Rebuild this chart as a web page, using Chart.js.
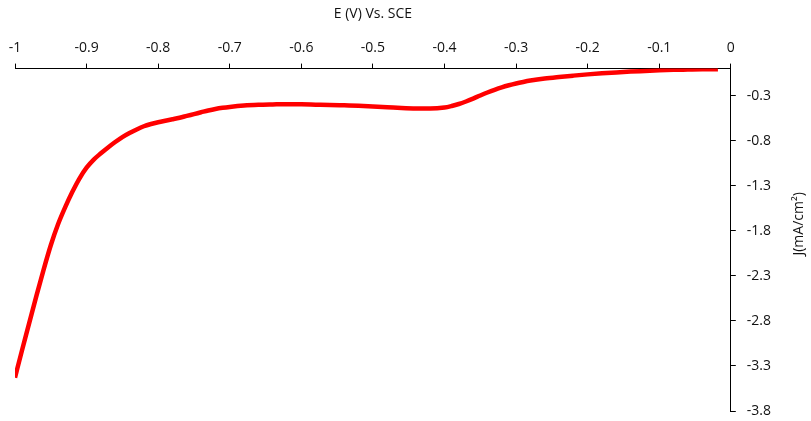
<!DOCTYPE html>
<html>
<head>
<meta charset="utf-8">
<script src="https://cdn.jsdelivr.net/npm/chart.js@4.4.0/dist/chart.umd.min.js"></script>
<style>
  html, body { margin: 0; padding: 0; background: #fff; }
  #wrap { width: 811px; height: 421px; }
</style>
</head>
<body>
<div id="wrap"><canvas id="lsvChart"></canvas></div>
<script>
// Potential (V vs. SCE) and current density (mA/cm2)
const potential = [
  -1.000, -0.990, -0.980, -0.970, -0.960, -0.950, -0.940, -0.930, -0.920, -0.910,
  -0.900, -0.890, -0.880, -0.870, -0.860, -0.850, -0.840, -0.830, -0.820, -0.810,
  -0.800, -0.790, -0.780, -0.770, -0.760, -0.750, -0.740, -0.730, -0.720, -0.710,
  -0.700, -0.680, -0.660, -0.640, -0.620, -0.600, -0.580, -0.560, -0.540, -0.520,
  -0.500, -0.480, -0.460, -0.440, -0.420, -0.400, -0.390, -0.380, -0.370, -0.360,
  -0.350, -0.340, -0.330, -0.320, -0.310, -0.300, -0.290, -0.280, -0.260, -0.240,
  -0.220, -0.200, -0.180, -0.160, -0.140, -0.120, -0.100, -0.080, -0.060, -0.040,
  -0.018
];
const currentDensity = [
  -3.43, -3.12, -2.82, -2.52, -2.23, -1.96, -1.73, -1.54, -1.37, -1.22,
  -1.10, -1.01, -0.94, -0.875, -0.815, -0.76, -0.715, -0.675, -0.64, -0.615,
  -0.595, -0.578, -0.562, -0.545, -0.525, -0.505, -0.485, -0.465, -0.448, -0.435,
  -0.425, -0.41, -0.402, -0.398, -0.395, -0.397, -0.40, -0.403, -0.408, -0.413,
  -0.42, -0.428, -0.437, -0.443, -0.444, -0.432, -0.415, -0.393, -0.365, -0.333,
  -0.298, -0.265, -0.235, -0.208, -0.185, -0.165, -0.148, -0.133, -0.11, -0.093,
  -0.078, -0.064, -0.052, -0.042, -0.033, -0.026, -0.019, -0.014, -0.011, -0.008,
  -0.006
];
const xTickValues = [-1, -0.9, -0.8, -0.7, -0.6, -0.5, -0.4, -0.3, -0.2, -0.1, 0];
const yTickValues = [-0.3, -0.8, -1.3, -1.8, -2.3, -2.8, -3.3, -3.8];

const xTitle = 'E (V) Vs. SCE';
const yTitle = 'J(mA/cm\u00B2)';

const textColor = '#111';
const fontFamily = "'Open Sans', 'Liberation Sans', sans-serif";

// draws the right-hand axis title reading bottom to top
const yTitlePlugin = {
  id: 'yTitlePlugin',
  afterDraw(chart) {
    const ctx = chart.ctx;
    const area = chart.chartArea;
    ctx.save();
    ctx.translate(chart.width - 12, (area.top + area.bottom) / 2 - 16);
    ctx.rotate(-Math.PI / 2);
    ctx.font = '14px ' + fontFamily;
    ctx.fillStyle = textColor;
    ctx.textAlign = 'center';
    ctx.textBaseline = 'middle';
    ctx.fillText(yTitle, 0, 0);
    ctx.restore();
  }
};

// stop the end labels from pushing the plot area inwards
function noLabelPadding(scale) {
  scale.paddingTop = 0;
  scale.paddingBottom = 0;
  scale.paddingLeft = 0;
  scale.paddingRight = 0;
}

const points = potential.map((e, i) => ({ x: e, y: currentDensity[i] }));

new Chart(document.getElementById('lsvChart'), {
  type: 'line',
  data: {
    datasets: [{
      data: points,
      borderColor: '#ff0000',
      borderWidth: 4.5,
      pointRadius: 0,
      cubicInterpolationMode: 'monotone',
      fill: false
    }]
  },
  options: {
    responsive: true,
    maintainAspectRatio: false,
    animation: false,
    layout: { autoPadding: false, padding: { left: 15, right: 29, top: 6, bottom: 10 } },
    plugins: {
      legend: { display: false },
      tooltip: { enabled: false }
    },
    scales: {
      x: {
        type: 'linear',
        position: 'top',
        min: -1,
        max: 0,
        afterBuildTicks: axis => { axis.ticks = xTickValues.map(v => ({ value: v })); },
        afterFit: noLabelPadding,
        ticks: {
          color: textColor,
          font: { size: 14, family: fontFamily },
          padding: 7,
          maxRotation: 0,
          callback: v => String(Math.round(v * 10) / 10)
        },
        grid: { drawOnChartArea: false, drawTicks: true, tickLength: 5, color: '#000' },
        border: { display: true, color: '#000', width: 1 },
        title: {
          display: true,
          text: xTitle,
          color: textColor,
          font: { size: 14, family: fontFamily },
          padding: { top: 0, bottom: 10 }
        }
      },
      y: {
        type: 'linear',
        position: 'right',
        min: -3.8,
        max: 0,
        afterBuildTicks: axis => { axis.ticks = yTickValues.map(v => ({ value: v })); },
        afterFit: noLabelPadding,
        ticks: {
          color: textColor,
          font: { size: 14, family: fontFamily },
          padding: 11,
          callback: v => String(Math.round(v * 10) / 10)
        },
        grid: { drawOnChartArea: false, drawTicks: true, tickLength: 5, color: '#000' },
        border: { display: true, color: '#000', width: 1 }
      }
    }
  },
  plugins: [yTitlePlugin]
});
</script>
</body>
</html>
